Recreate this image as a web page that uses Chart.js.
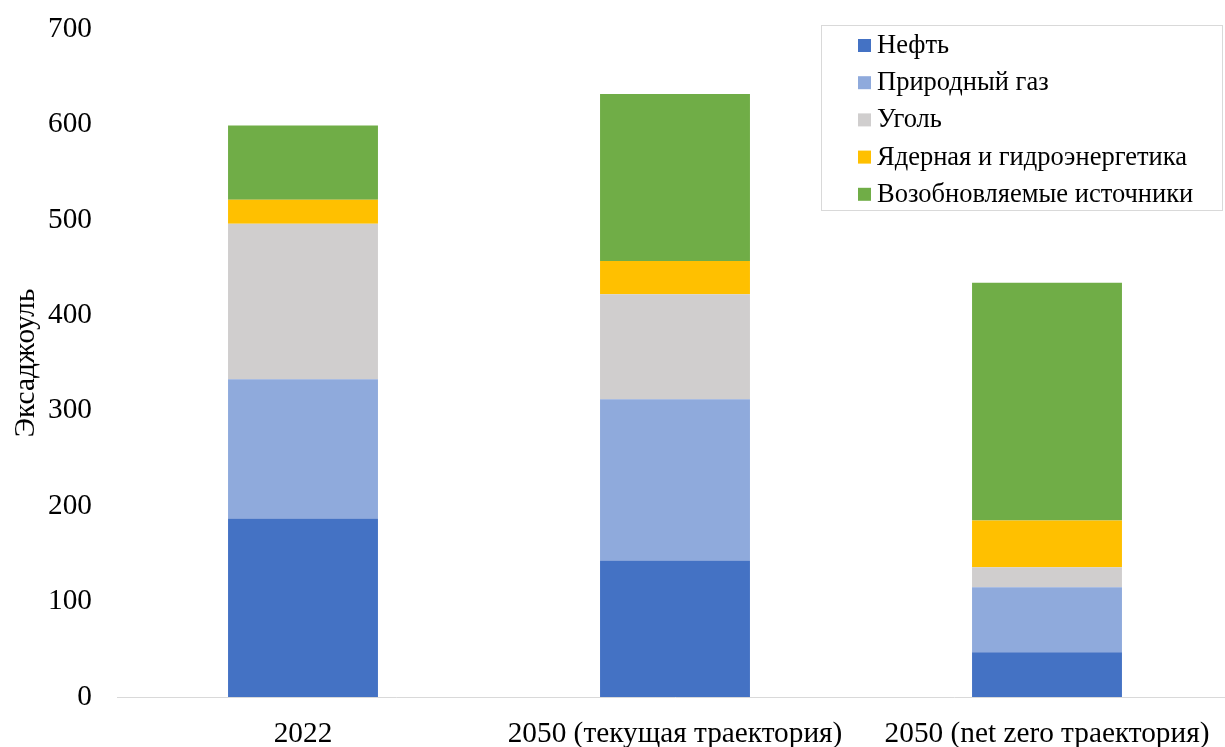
<!DOCTYPE html>
<html>
<head>
<meta charset="utf-8">
<script src="https://cdn.jsdelivr.net/npm/chart.js@4"></script>
<style>
  html, body { margin: 0; padding: 0; background: #fff; }
  #wrap { width: 1225px; height: 747px; overflow: hidden; position: relative; }
  canvas { display: block; }
</style>
</head>
<body>
<div id="wrap"><canvas id="energyChart" width="1240" height="747"></canvas></div>
<script>
const categories = ["2022", "2050 (текущая траектория)", "2050 (net zero траектория)"];
const oil = [187, 143, 47];
const gas = [146, 169, 68];
const coal = [163, 110, 21];
const nuclearHydro = [25, 35, 49];
const renewables = [78, 175, 249];
const yTicks = [0, 100, 200, 300, 400, 500, 600, 700];

const serif = "'Liberation Serif', 'Times New Roman', serif";

// legend box drawn by hand, top right like the original
const boxLegend = {
  id: "boxLegend",
  afterDraw(chart) {
    const c = chart.ctx;
    c.save();
    c.strokeStyle = "#d9d9d9";
    c.lineWidth = 1;
    c.strokeRect(821.5, 25.5, 401, 185);
    c.font = "26.5px " + serif;
    c.textBaseline = "middle";
    chart.data.datasets.forEach((ds, i) => {
      const y = 45 + i * 37.2;
      c.fillStyle = ds.backgroundColor;
      c.fillRect(858, y - 6, 13, 13);
      c.fillStyle = "#000";
      c.fillText(ds.label, 877, y + 1);
    });
    c.restore();
  }
};

const ctx = document.getElementById("energyChart").getContext("2d");
new Chart(ctx, {
  type: "bar",
  data: {
    labels: categories,
    datasets: [
      { label: "Нефть", data: oil, backgroundColor: "#4472C4" },
      { label: "Природный газ", data: gas, backgroundColor: "#8FAADC" },
      { label: "Уголь", data: coal, backgroundColor: "#D0CECE" },
      { label: "Ядерная и гидроэнергетика", data: nuclearHydro, backgroundColor: "#FFC000" },
      { label: "Возобновляемые источники", data: renewables, backgroundColor: "#70AD47" }
    ]
  },
  options: {
    responsive: false,
    animation: false,
    layout: { padding: { top: 29, right: 7, left: 0, bottom: 0 } },
    datasets: {
      bar: { barPercentage: 0.403, categoryPercentage: 1, borderWidth: 0 }
    },
    plugins: {
      legend: { display: false },
      tooltip: { enabled: false }
    },
    scales: {
      x: {
        stacked: true,
        grid: { display: false, drawTicks: false },
        border: { display: true, color: "#d9d9d9", width: 1 },
        ticks: { color: "#000", font: { family: serif, size: 29.3 }, padding: 20, maxRotation: 0 },
        afterFit(scale) { scale.height = 50; }
      },
      y: {
        stacked: true,
        min: 0,
        max: 700,
        afterBuildTicks(scale) { scale.ticks = yTicks.map(v => ({ value: v })); },
        grid: { display: false, drawTicks: false },
        border: { display: false },
        ticks: { color: "#000", font: { family: serif, size: 29.3 }, padding: 25 },
        title: {
          display: true,
          text: "Эксаджоуль",
          color: "#000",
          font: { family: serif, size: 29.3 },
          padding: { top: 9, bottom: 0 }
        },
        afterFit(scale) {
          scale.width = 117;
          scale.paddingTop = 0;
          scale.paddingBottom = 0;
        }
      }
    }
  },
  plugins: [boxLegend]
});
</script>
</body>
</html>
